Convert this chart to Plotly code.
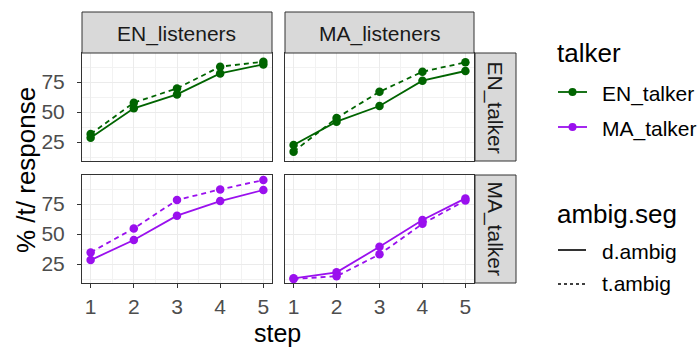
import plotly.graph_objects as go

steps = [1, 2, 3, 4, 5]
listeners = ["EN_listeners", "MA_listeners"]
talkers = ["EN_talker", "MA_talker"]
segs = ["d.ambig", "t.ambig"]

# values: % /t/ response by (talker, listener, ambig.seg)
en_talker_en_list_d = [28.6, 53.1, 64.7, 82.2, 89.7]
en_talker_en_list_t = [31.7, 57.8, 69.7, 87.8, 91.9]
en_talker_ma_list_d = [22.5, 42.0, 55.0, 76.1, 84.2]
en_talker_ma_list_t = [17.0, 45.0, 66.9, 83.6, 91.4]
ma_talker_en_list_d = [28.3, 45.0, 65.3, 77.5, 86.7]
ma_talker_en_list_t = [34.7, 54.7, 78.3, 87.2, 95.0]
ma_talker_ma_list_d = [13.1, 18.1, 39.4, 61.7, 79.7]
ma_talker_ma_list_t = [12.6, 14.8, 33.1, 58.5, 78.0]

x_ticks = [1, 2, 3, 4, 5]
y_ticks = [25, 50, 75]

colors = {"EN_talker": "#006400", "MA_talker": "#9A10EE"}
dashes = {"d.ambig": "solid", "t.ambig": "5px,4px"}

data = {
    ("EN_talker", "EN_listeners", "d.ambig"): en_talker_en_list_d,
    ("EN_talker", "EN_listeners", "t.ambig"): en_talker_en_list_t,
    ("EN_talker", "MA_listeners", "d.ambig"): en_talker_ma_list_d,
    ("EN_talker", "MA_listeners", "t.ambig"): en_talker_ma_list_t,
    ("MA_talker", "EN_listeners", "d.ambig"): ma_talker_en_list_d,
    ("MA_talker", "EN_listeners", "t.ambig"): ma_talker_en_list_t,
    ("MA_talker", "MA_listeners", "d.ambig"): ma_talker_ma_list_d,
    ("MA_talker", "MA_listeners", "t.ambig"): ma_talker_ma_list_t,
}

W, H = 700, 349
col_px = [(82, 272), (285, 474)]
row_px = [(53, 161), (175, 283)]

def px(x):
    return x / W

def py(y):
    return 1 - y / H

fig = go.Figure()
layout = {}
FONT = "Liberation Sans, Arial, sans-serif"
SMALL = 21
BIG = 26

idx = 0
for r, talker in enumerate(talkers):
    for c, listener in enumerate(listeners):
        idx += 1
        xa = "x" if idx == 1 else f"x{idx}"
        ya = "y" if idx == 1 else f"y{idx}"
        xkey = "xaxis" if idx == 1 else f"xaxis{idx}"
        ykey = "yaxis" if idx == 1 else f"yaxis{idx}"
        for seg in segs:
            fig.add_trace(go.Scatter(
                x=steps, y=data[(talker, listener, seg)],
                mode="lines+markers", xaxis=xa, yaxis=ya,
                line=dict(color=colors[talker], width=1.8, dash=dashes[seg]),
                marker=dict(color=colors[talker], size=8.5),
                showlegend=False, hoverinfo="skip"))
        layout[xkey] = dict(
            domain=[px(col_px[c][0]), px(col_px[c][1])], range=[0.8, 5.2],
            anchor=ya, tickvals=x_ticks, showticklabels=(r == 1),
            ticks="outside" if r == 1 else "", ticklen=4, tickcolor="#333333",
            ticklabelstandoff=1,
            tickfont=dict(family=FONT, size=SMALL, color="#4D4D4D"),
            showgrid=True, gridcolor="#EBEBEB", gridwidth=1.4,
            minor=dict(tick0=0.5, dtick=0.5, showgrid=True, gridcolor="#F2F2F2", gridwidth=0.8),
            showline=True, mirror=True, linecolor="#333333", linewidth=1,
            zeroline=False, fixedrange=True)
        layout[ykey] = dict(
            domain=[py(row_px[r][1]), py(row_px[r][0])], range=[9.2, 99.2],
            anchor=xa, tickvals=y_ticks, showticklabels=(c == 0),
            ticks="outside" if c == 0 else "", ticklen=4, tickcolor="#333333",
            ticklabelstandoff=8,
            tickfont=dict(family=FONT, size=SMALL, color="#4D4D4D"),
            showgrid=True, gridcolor="#EBEBEB", gridwidth=1.4,
            minor=dict(tick0=12.5, dtick=25, showgrid=True, gridcolor="#F2F2F2", gridwidth=0.8),
            showline=True, mirror=True, linecolor="#333333", linewidth=1,
            zeroline=False, fixedrange=True)

shapes = []
annotations = []
# top strips
for c, listener in enumerate(listeners):
    x0, x1 = col_px[c]
    shapes.append(dict(type="rect", xref="paper", yref="paper",
                       x0=px(x0), x1=px(x1), y0=py(53), y1=py(12),
                       fillcolor="#D9D9D9", line=dict(color="#333333", width=1)))
    annotations.append(dict(text=listener, xref="paper", yref="paper",
                            x=px((x0 + x1) / 2), y=py(33.5), showarrow=False,
                            font=dict(family=FONT, size=SMALL, color="#1A1A1A"),
                            xanchor="center", yanchor="middle"))
# right strips
for r, talker in enumerate(talkers):
    y0, y1 = row_px[r]
    shapes.append(dict(type="rect", xref="paper", yref="paper",
                       x0=px(475), x1=px(516), y0=py(y1), y1=py(y0),
                       fillcolor="#D9D9D9", line=dict(color="#333333", width=1)))
    annotations.append(dict(text=talker, xref="paper", yref="paper",
                            x=px(494.5), y=py((y0 + y1) / 2), showarrow=False,
                            textangle=90,
                            font=dict(family=FONT, size=SMALL, color="#1A1A1A"),
                            xanchor="center", yanchor="middle"))

# axis titles
annotations.append(dict(text="step", xref="paper", yref="paper",
                        x=px(277), y=0, showarrow=False,
                        font=dict(family=FONT, size=25, color="#000000"),
                        xanchor="center", yanchor="bottom"))
annotations.append(dict(text="% /t/ response", xref="paper", yref="paper",
                        x=px(26), y=py(170), showarrow=False, textangle=-90,
                        font=dict(family=FONT, size=BIG, color="#000000"),
                        xanchor="center", yanchor="middle"))

# legend: talker
annotations.append(dict(text="talker", xref="paper", yref="paper",
                        x=px(555), y=py(53), showarrow=False,
                        font=dict(family=FONT, size=BIG, color="#000000"),
                        xanchor="left", yanchor="middle"))
for i, talker in enumerate(talkers):
    yy = [92, 127][i]
    shapes.append(dict(type="line", xref="paper", yref="paper",
                       x0=px(558), x1=px(587), y0=py(yy), y1=py(yy),
                       line=dict(color=colors[talker], width=1.8)))
    shapes.append(dict(type="circle", xref="paper", yref="paper",
                       x0=px(568.5), x1=px(576.5), y0=py(yy + 4), y1=py(yy - 4),
                       fillcolor=colors[talker], line=dict(width=0)))
    annotations.append(dict(text=talker, xref="paper", yref="paper",
                            x=px(600), y=py(yy + 2), showarrow=False,
                            font=dict(family=FONT, size=SMALL, color="#000000"),
                            xanchor="left", yanchor="middle"))
# legend: ambig.seg
annotations.append(dict(text="ambig.seg", xref="paper", yref="paper",
                        x=px(555), y=py(214), showarrow=False,
                        font=dict(family=FONT, size=BIG, color="#000000"),
                        xanchor="left", yanchor="middle"))
for i, seg in enumerate(segs):
    yy = [250, 284][i]
    shapes.append(dict(type="line", xref="paper", yref="paper",
                       x0=px(558), x1=px(586), y0=py(yy), y1=py(yy),
                       line=dict(color="#000000", width=1.6,
                                 dash="solid" if seg == "d.ambig" else "3px,3px")))
    annotations.append(dict(text=seg, xref="paper", yref="paper",
                            x=px(600), y=py([251, 283][i]), showarrow=False,
                            font=dict(family=FONT, size=SMALL, color="#000000"),
                            xanchor="left", yanchor="middle"))

fig.update_layout(
    width=W, height=H, margin=dict(l=0, r=0, t=0, b=0),
    paper_bgcolor="white", plot_bgcolor="white",
    shapes=shapes, annotations=annotations, showlegend=False,
    **layout)

fig.write_html("out.html", config={"displayModeBar": False},
               post_script="document.body.style.margin='0';")
